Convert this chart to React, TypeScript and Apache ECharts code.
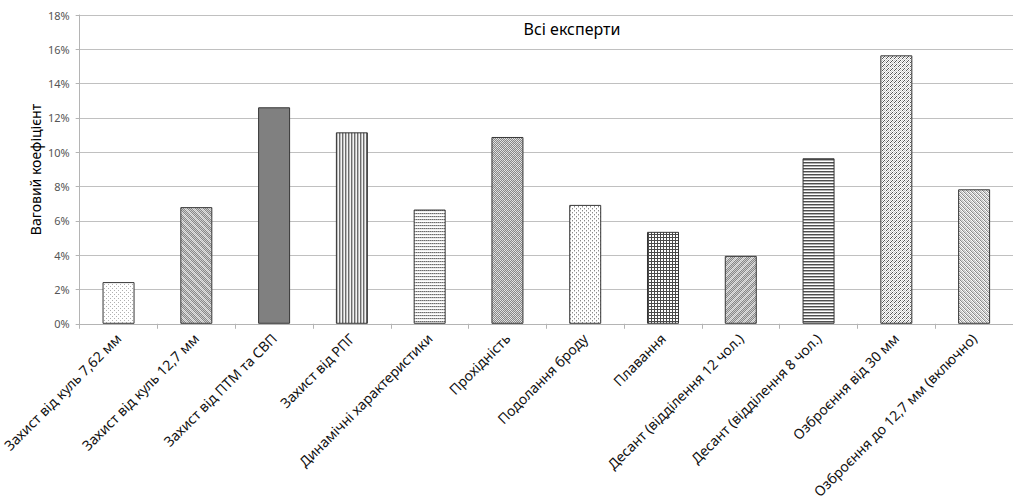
import React, { useEffect, useRef } from "react";
import * as echarts from "echarts";

// Criteria and their weight coefficients (percent)
const categories: string[] = [
  "Захист від куль 7,62 мм",
  "Захист від куль 12,7 мм",
  "Захист від ПТМ та СВП",
  "Захист від РПГ",
  "Динамічні характеристики",
  "Прохідність",
  "Подолання броду",
  "Плавання",
  "Десант (відділення 12 чол.)",
  "Десант (відділення 8 чол.)",
  "Озброєння від 30 мм",
  "Озброєння до 12,7 мм (включно)",
];

const weights: number[] = [2.43, 6.8, 12.62, 11.16, 6.66, 10.89, 6.93, 5.36, 3.96, 9.65, 15.65, 7.84];

const yMin = 0;
const yMax = 18;
const yStep = 2;

const chartTitle = "Всі експерти";
const yAxisTitle = "Ваговий коефіцієнт";

// Monochrome fill patterns, one per bar, defined pixel by pixel on a tile
type PixelFn = (x: number, y: number) => string;
const W = "#ffffff";
const mod = (a: number, n: number) => ((a % n) + n) % n;

const patternFns: PixelFn[] = [
  // sparse dots
  (x, y) => ((y % 4 === 0 && x % 4 === 0) || (y % 4 === 2 && x % 4 === 2) ? "#b0b0b0" : W),
  // checker with light "\" bands
  (x, y) => {
    const d = mod(x - y, 8);
    if (d < 3) return (x + y) % 2 ? "#bcbcbc" : "#e2e2e2";
    return (x + y) % 2 ? "#888888" : "#cccccc";
  },
  // solid
  () => "#808080",
  // vertical stripes
  (x) => (x % 3 === 0 ? "#6c6c6c" : x % 3 === 1 ? "#bcbcbc" : "#f4f4f4"),
  // dotted horizontal lines
  (x, y) => (y % 3 === 0 ? (x % 2 ? "#a8a8a8" : "#6c6c6c") : y % 3 === 1 ? "#eeeeee" : W),
  // fine checker
  (x, y) => ((x + y) % 2 ? "#888888" : ((x >> 2) + (y >> 2)) % 2 ? "#d4d4d4" : "#e6e6e6"),
  // light dots
  (x, y) => (y % 2 === 0 && mod(x + y, 4) === 0 ? "#8a8a8a" : y % 2 === 1 && mod(x + y, 4) === 1 ? "#d0d0d0" : W),
  // dense grid
  (x, y) => (x % 3 === 0 || y % 3 === 0 ? "#4a4a4a" : W),
  // checker with light "/" bands
  (x, y) => {
    const d = mod(x + y, 8);
    if (d < 3) return (x + y) % 2 ? "#bcbcbc" : "#e2e2e2";
    return (x + y) % 2 ? "#888888" : "#cccccc";
  },
  // horizontal stripes
  (_x, y) => (y % 3 === 0 ? "#4e4e4e" : y % 3 === 1 ? "#b0b0b0" : W),
  // diagonal dashes
  (x, y) => (mod(x + y, 4) === 0 && y % 4 !== 3 ? "#555555" : (x + y) % 2 === 0 ? "#c8c8c8" : W),
  // diamond checker
  (x, y) => ((x + y) % 2 === 0 ? (((x >> 1) + (y >> 1)) % 2 === 0 ? "#8a8a8a" : "#c0c0c0") : mod(x - y, 4) === 1 ? "#dddddd" : W),
];

const TILE = 24;

function makePattern(fn: PixelFn) {
  const c = document.createElement("canvas");
  c.width = TILE;
  c.height = TILE;
  const ctx = c.getContext("2d")!;
  for (let y = 0; y < TILE; y++) {
    for (let x = 0; x < TILE; x++) {
      ctx.fillStyle = fn(x, y);
      ctx.fillRect(x, y, 1, 1);
    }
  }
  return { image: c.toDataURL(), repeat: "repeat", imageWidth: TILE, imageHeight: TILE } as any;
}

export default function App() {
  const ref = useRef<HTMLDivElement>(null);

  useEffect(() => {
    document.body.style.margin = "0";
    const chart = echarts.init(ref.current!, null, { renderer: "svg" });
    const font = "'Noto Sans', 'DejaVu Sans', sans-serif";

    const data = weights.map((v, i) => ({
      value: v,
      itemStyle: {
        color: makePattern(patternFns[i % patternFns.length]),
        borderColor: "#363636",
        borderWidth: 1,
      },
    }));

    chart.setOption({
      animation: false,
      backgroundColor: "#ffffff",
      textStyle: { fontFamily: font },
      grid: { left: 78, right: -11, top: 15, bottom: 177, containLabel: false },
      xAxis: {
        type: "category",
        data: categories,
        axisLine: { lineStyle: { color: "#b4b4b4", width: 1 } },
        axisTick: { show: true, length: 5, lineStyle: { color: "#b4b4b4" } },
        axisLabel: {
          rotate: 45,
          interval: 0,
          margin: 12,
          fontSize: 14,
          color: "#111111",
          fontFamily: font,
        },
      },
      yAxis: {
        type: "value",
        min: yMin,
        max: yMax,
        interval: yStep,
        axisLine: { show: true, lineStyle: { color: "#b4b4b4", width: 1 } },
        axisTick: { show: true, length: 4, lineStyle: { color: "#b4b4b4" } },
        axisLabel: {
          margin: 10,
          fontSize: 11,
          color: "#555555",
          fontFamily: font,
          formatter: (v: number) => `${v}%`,
        },
        splitLine: { show: true, lineStyle: { color: "#c0c0c0", width: 1 } },
      },
      series: [
        {
          type: "bar",
          data,
          barWidth: 32,
        },
      ],
      graphic: [
        {
          type: "text",
          x: 572,
          y: 29,
          style: {
            text: chartTitle,
            fontSize: 16,
            fontFamily: font,
            fill: "#000000",
            align: "center",
            verticalAlign: "middle",
          },
        },
        {
          type: "text",
          x: 35,
          y: 169.5,
          rotation: Math.PI / 2,
          style: {
            text: yAxisTitle,
            fontSize: 14,
            fontFamily: font,
            fill: "#000000",
            align: "center",
            verticalAlign: "middle",
          },
        },
      ],
    });

    return () => chart.dispose();
  }, []);

  return (
    <div
      ref={ref}
      style={{ position: "absolute", left: 0, top: 0, width: 1013, height: 501, overflow: "hidden" }}
    />
  );
}
